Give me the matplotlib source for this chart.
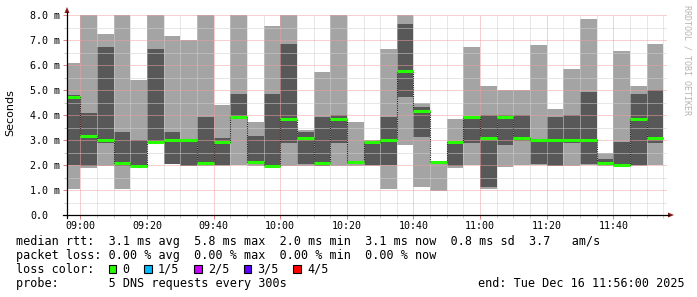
import matplotlib
matplotlib.use('Agg')
import numpy as np
import matplotlib.pyplot as plt
from matplotlib import transforms
from matplotlib.lines import Line2D
from matplotlib.patches import Rectangle, Polygon
from matplotlib.ticker import FixedLocator

# 5 minute steps (start of each step)
steps = ['08:55', '09:00', '09:05', '09:10', '09:15', '09:20', '09:25', '09:30', '09:35',
         '09:40', '09:45', '09:50', '09:55', '10:00', '10:05', '10:10', '10:15', '10:20',
         '10:25', '10:30', '10:35', '10:40', '10:45', '10:50', '10:55', '11:00', '11:05',
         '11:10', '11:15', '11:20', '11:25', '11:30', '11:35', '11:40', '11:45', '11:50']

# sorted ping rtts (ms) of the 5 pings per step, p3 = median
p1 = [1.03, 1.90, 1.97, 1.04, 1.90, 2.88, 2.03, 1.97, 1.98, 1.98, 1.99, 1.97,
      1.95, 1.97, 1.98, 1.97, 1.98, 1.98, 1.98, 1.03, 2.80, 1.12, 0.97, 1.90,
      1.99, 1.06, 1.91, 1.99, 1.99, 1.97, 1.98, 1.99, 1.98, 1.96, 1.98, 1.99]
p2 = [2.00, 1.97, 2.89, 1.98, 1.95, 2.90, 2.04, 1.98, 1.99, 1.99, 3.84, 2.07,
      1.96, 2.89, 2.04, 1.98, 2.89, 2.04, 1.99, 1.99, 4.71, 3.13, 2.06, 1.98,
      2.89, 1.13, 2.80, 2.97, 2.04, 1.98, 2.89, 2.04, 1.99, 1.97, 1.99, 2.89]
p3 = [4.73, 3.15, 2.99, 2.08, 1.98, 2.91, 2.99, 2.99, 2.07, 2.91, 3.91, 2.13,
      1.98, 3.84, 3.07, 2.07, 3.83, 2.13, 2.92, 3.00, 5.76, 4.16, 2.13, 2.91,
      3.91, 3.07, 3.91, 3.07, 3.00, 3.00, 3.00, 3.00, 2.07, 1.99, 3.83, 3.07]
p4 = [4.80, 4.09, 6.72, 3.32, 3.00, 6.64, 3.32, 3.01, 3.93, 3.07, 4.84, 3.16,
      4.84, 6.85, 3.32, 3.93, 3.99, 2.17, 2.97, 3.93, 7.64, 4.32, 2.15, 2.93,
      3.97, 3.99, 3.99, 3.99, 3.03, 3.93, 3.99, 4.92, 2.24, 2.92, 4.84, 5.00]
p5 = [6.08, 9.00, 7.24, 9.00, 5.41, 9.00, 7.16, 7.00, 9.00, 4.40, 9.00, 3.73,
      7.56, 9.00, 3.40, 5.73, 9.00, 3.72, 3.00, 6.64, 9.00, 4.47, 2.17, 3.84,
      6.72, 5.16, 5.00, 5.00, 6.80, 4.23, 5.84, 7.84, 2.48, 6.56, 5.16, 6.84]
loss = [0] * len(steps)

loss_labels = ['0', '1/5', '2/5', '3/5', '4/5']
loss_colors = ['#26ff00', '#00b8ff', '#cc00ff', '#5e00ff', '#ff0000']

xtick_labels = ['09:00', '09:20', '09:40', '10:00', '10:20', '10:40', '11:00', '11:20', '11:40']
ytick_vals = [0, 1, 2, 3, 4, 5, 6, 7, 8]
ytick_labels = ['0.0', '1.0 m', '2.0 m', '3.0 m', '4.0 m', '5.0 m', '6.0 m', '7.0 m', '8.0 m']

legend_rows = ['median rtt:  3.1 ms avg  5.8 ms max  2.0 ms min  3.1 ms now  0.8 ms sd  3.7   am/s',
               'packet loss: 0.00 % avg  0.00 % max  0.00 % min  0.00 % now']
probe_text = 'probe:       5 DNS requests every 300s'
end_text = 'end: Tue Dec 16 11:56:00 2025'

MONO = 'DejaVu Sans Mono'
W, H = 697, 297


def fx(x):
    return x / W


def fy(y):
    return 1 - y / H


def minutes(s):
    h, m = s.split(':')
    return int(h) * 60 + int(m) - 540


t = np.array([minutes(s) for s in steps], dtype=float)
p1, p2, p3, p4, p5 = [np.array(a) for a in (p1, p2, p3, p4, p5)]
xmajor = [minutes(s) for s in xtick_labels]

fig = plt.figure(figsize=(W / 100, H / 100), dpi=100)
ax = fig.add_axes([fx(67), fy(215), (666.7 - 67) / W, 200 / H])

# smoke
ax.bar(t, p5 - p1, bottom=p1, width=5, align='edge', color='#a4a4a4', linewidth=0, zorder=1)
ax.bar(t, p4 - p2, bottom=p2, width=5, align='edge', color='#585858', linewidth=0, zorder=1.1)

# median
ax.step(np.append(t, t[-1] + 5), np.append(p3, p3[-1]), where='post',
        color='#202020', lw=0.8, ls=(0, (1, 1)), zorder=3)
ax.hlines(p3, t, t + 5, colors=[loss_colors[l] for l in loss], lw=2.2, zorder=4)

ax.set_xlim(-4, 176)
ax.set_ylim(0, 8)
ax.xaxis.set_major_locator(FixedLocator(xmajor))
ax.set_xticklabels(xtick_labels, fontsize=7.2, family=MONO)
ax.xaxis.set_minor_locator(FixedLocator([m for m in t[1:] if m not in xmajor] + [t[-1] + 5]))
ax.yaxis.set_major_locator(FixedLocator(ytick_vals))
ax.yaxis.set_minor_locator(FixedLocator([v + 0.5 for v in ytick_vals[:-1]]))
ax.tick_params(labelleft=False)
ax.tick_params(axis='x', which='major', length=3, width=0.7, color='#e08080', pad=1.5)
ax.tick_params(which='minor', length=2, width=0.7, color='#c8c8c8')
ax.tick_params(axis='y', which='major', length=3, width=0.7, color='#e08080')

ax.set_axisbelow(False)
ax.grid(which='major', color='#eea0a0', lw=0.72, ls=(0, (1, 1)))
ax.grid(which='minor', color='#d0d0d0', lw=0.72, ls=(0, (1, 1)))
for s in ax.spines.values():
    s.set_visible(False)

# y tick labels, left aligned as rrdtool does
tr = transforms.blended_transform_factory(fig.transFigure, ax.transData)
for v, lab in zip(ytick_vals, ytick_labels):
    ax.text(fx(30), v, lab, transform=tr, ha='left', va='center_baseline',
            fontsize=7.2, family=MONO)

# axes with arrows
fig.add_artist(Line2D([fx(67), fx(67)], [fy(218), fy(12)], color='black', lw=0.9))
fig.add_artist(Line2D([fx(63), fx(669)], [fy(215), fy(215)], color='black', lw=0.9))
fig.add_artist(Polygon([(fx(64.5), fy(13)), (fx(69.5), fy(13)), (fx(67), fy(7))],
                       closed=True, color='#8b1a1a', lw=0))
fig.add_artist(Polygon([(fx(668), fy(212.5)), (fx(668), fy(217.5)), (fx(674), fy(215))],
                       closed=True, color='#8b1a1a', lw=0))

fig.text(fx(10), fy(113), 'Seconds', rotation=90, ha='center', va='center',
         fontsize=8, family='DejaVu Sans')
fig.text(fx(687.5), fy(60), 'RRDTOOL / TOBI OETIKER', rotation=270, ha='center',
         va='center', fontsize=6, family=MONO, color='#b4b4b4')

# legend
cw = 7.1
x0 = 16
fs = 8.5
fig.text(fx(x0), fy(245), legend_rows[0], fontsize=fs, family=MONO, va='baseline')
fig.text(fx(x0), fy(259), legend_rows[1], fontsize=fs, family=MONO, va='baseline')
fig.text(fx(x0), fy(273), 'loss color:', fontsize=fs, family=MONO, va='baseline')
col = 13
for lab, c in zip(loss_labels, loss_colors):
    sx = x0 + col * cw + 0.5
    fig.add_artist(Rectangle((fx(sx), fy(272.5)), 7.5 / W, 7.5 / H, facecolor=c,
                             edgecolor='black', lw=0.8, transform=fig.transFigure))
    fig.text(fx(x0 + (col + 2) * cw), fy(273), lab, fontsize=fs, family=MONO, va='baseline')
    col += 2 + len(lab) + 2
fig.text(fx(x0), fy(287), probe_text, fontsize=fs, family=MONO, va='baseline')
fig.text(fx(x0 + 65 * cw), fy(287), end_text, fontsize=fs, family=MONO, va='baseline')

fig.savefig('out.png', dpi=100)
